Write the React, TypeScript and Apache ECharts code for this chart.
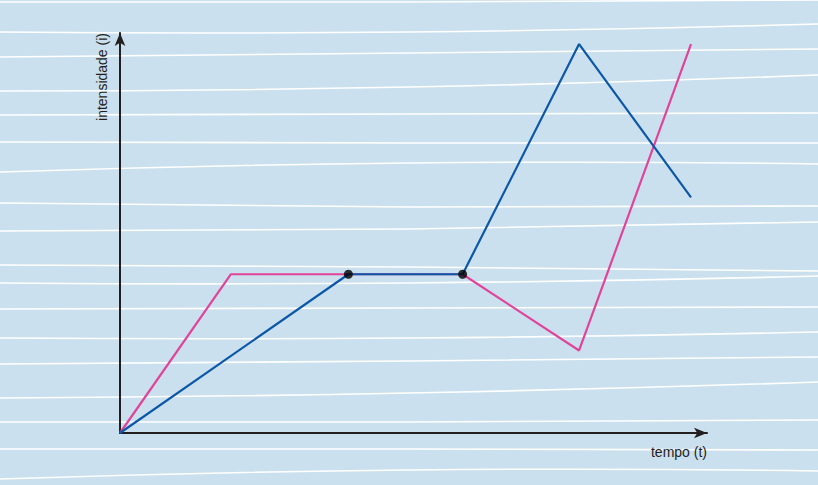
import React, { useEffect, useRef } from "react";
import * as echarts from "echarts";

const pinkSeries: [number, number][] = [
  [0, 0], [0.97, 2], [2, 2], [3, 2], [4.02, 1.04], [5, 4.9],
];
const blueSeries: [number, number][] = [
  [0, 0], [2, 2], [3, 2], [4.02, 4.9], [5, 2.97],
];
const markedPoints: [number, number][] = [[2, 2], [3, 2]];
const xAxisLabel = "tempo (t)";
const yAxisLabel = "intensidade (i)";

// decorative paper lines: y at left, middle, right edge
const paperLines: [number, number, number][] = [
  [2, 2, 0], [32, 32, 24], [57, 53, 49], [91, 87, 75], [115, 114, 113],
  [142, 143, 143], [172, 163, 164], [203, 207, 206], [231, 229, 222],
  [265, 267, 271], [283, 283, 276], [309, 308, 307], [338, 338, 332],
  [364, 361, 357], [398, 393, 382], [422, 422, 420], [449, 449, 450],
  [479, 470, 471],
];

export default function App() {
  const ref = useRef<HTMLDivElement>(null);
  useEffect(() => {
    if (!ref.current) return;
    const chart = echarts.init(ref.current, undefined, { renderer: "svg" });
    const W = 818;
    const lines = paperLines.map(([a, b, c]) => ({
      type: "polyline",
      z: 0,
      silent: true,
      shape: { points: [[0, a], [W / 2, b], [W, c]], smooth: 0.5 },
      style: { stroke: "#ffffff", lineWidth: 1.6, fill: null },
    }));
    const font = "'Liberation Sans', Arial, Helvetica, sans-serif";
    chart.setOption({
      animation: false,
      backgroundColor: "#cbe0ee",
      grid: { left: 120, right: 111, top: 33, bottom: 52 },
      xAxis: {
        type: "value",
        min: 0,
        max: 5.14,
        axisLine: {
          show: true,
          symbol: ["none", "arrow"],
          symbolSize: [8, 13],
          lineStyle: { color: "#231f20", width: 2 },
        },
        axisTick: { show: false },
        axisLabel: { show: false },
        splitLine: { show: false },
      },
      yAxis: {
        type: "value",
        min: 0,
        max: 5.04,
        axisLine: {
          show: true,
          symbol: ["none", "arrow"],
          symbolSize: [8, 13],
          lineStyle: { color: "#231f20", width: 2 },
        },
        axisTick: { show: false },
        axisLabel: { show: false },
        splitLine: { show: false },
      },
      graphic: [
        ...lines,
        {
          type: "text",
          z: 10,
          x: 707,
          y: 452,
          style: {
            text: xAxisLabel,
            fill: "#231f20",
            font: `14px ${font}`,
            align: "right",
            verticalAlign: "middle",
          },
        },
        {
          type: "text",
          z: 10,
          x: 102,
          y: 77,
          rotation: Math.PI / 2,
          style: {
            text: yAxisLabel,
            fill: "#231f20",
            font: `14px ${font}`,
            align: "center",
            verticalAlign: "middle",
          },
        },
      ],
      series: [
        {
          type: "line",
          data: pinkSeries,
          showSymbol: false,
          symbol: "none",
          lineStyle: { color: "#e0449a", width: 2.2 },
          z: 3,
        },
        {
          type: "line",
          data: blueSeries,
          showSymbol: false,
          symbol: "none",
          lineStyle: { color: "#0b57a8", width: 2.2 },
          z: 4,
        },
        {
          type: "scatter",
          data: markedPoints,
          symbolSize: 9,
          itemStyle: { color: "#000000" },
          z: 5,
        },
      ],
    });
    return () => chart.dispose();
  }, []);
  return (
    <div
      ref={ref}
      style={{ position: "fixed", left: 0, top: 0, width: 818, height: 485 }}
    />
  );
}
